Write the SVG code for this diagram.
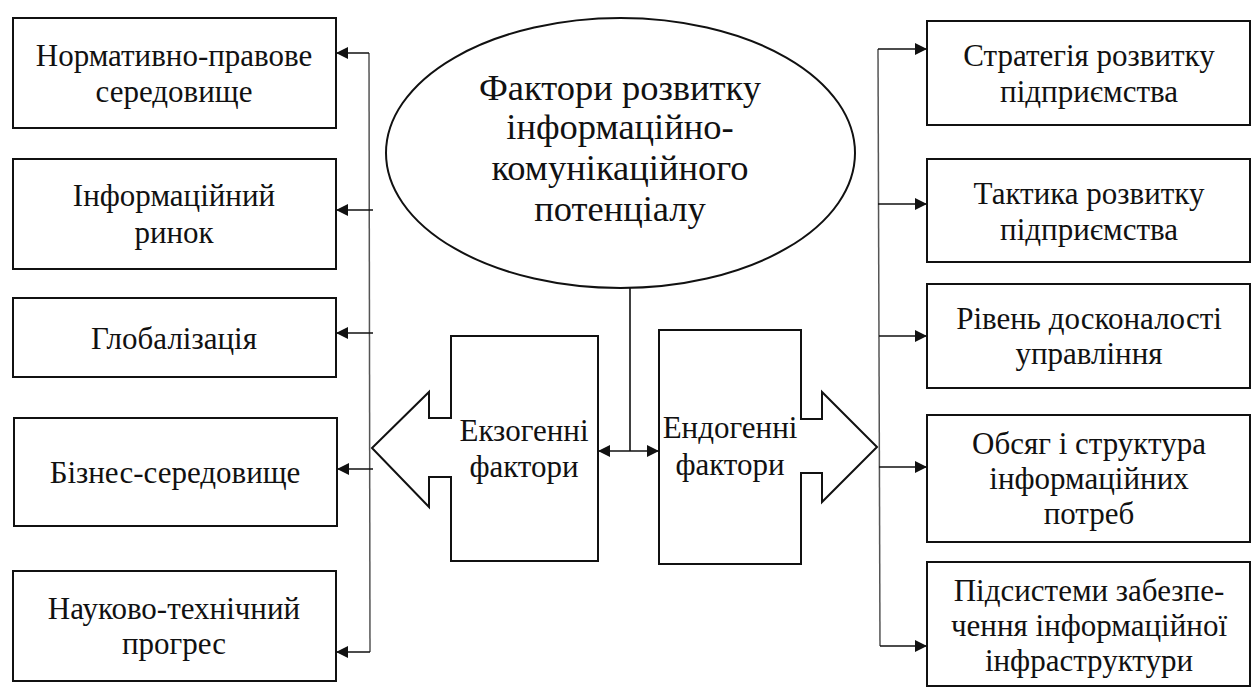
<svg xmlns="http://www.w3.org/2000/svg" width="1257" height="688" viewBox="0 0 1257 688" font-family="Liberation Serif, Times New Roman, serif">
<style>
.box{fill:#fff;stroke:#111;stroke-width:2}
.shape{fill:#fff;stroke:#111;stroke-width:2;stroke-linejoin:miter}
.t{font-family:"Liberation Serif","Times New Roman",serif;font-size:31px;fill:#111;text-anchor:middle}
.tb{font-family:"Liberation Serif","Times New Roman",serif;font-size:36.5px;fill:#111;text-anchor:middle}
.bus{fill:none;stroke:#555;stroke-width:1.5}
.arr{fill:none;stroke:#111;stroke-width:1.6}
</style>
<defs>
<marker id="ah" viewBox="0 0 12 12" refX="12" refY="6" markerWidth="12" markerHeight="12" markerUnits="userSpaceOnUse" orient="auto-start-reverse">
<path d="M0,0 L12,6 L0,12 Z" fill="#111"/>
</marker>
</defs>
<g id="center">
<ellipse cx="620.5" cy="153" rx="234.5" ry="135" class="box"/>
<text class="tb" x="620" y="100">Фактори розвитку</text>
<text class="tb" x="620" y="139">інформаційно-</text>
<text class="tb" x="620" y="180">комунікаційного</text>
<text class="tb" x="620" y="221">потенціалу</text>
</g>
<g id="exo">
<path class="shape" d="M598,336 L451,336 L451,418 L429,418 L429,392 L372,448 L429,507 L429,477 L451,477 L451,561 L598,561 Z"/>
<text class="t" x="524" y="441">Екзогенні</text>
<text class="t" x="524" y="477">фактори</text>
</g>
<g id="endo">
<path class="shape" d="M659,330 L801,330 L801,419 L822,419 L822,392 L877,447 L822,502 L822,473 L801,473 L801,564 L659,564 Z"/>
<text class="t" x="730" y="438">Ендогенні</text>
<text class="t" x="730" y="475">фактори</text>
</g>
<g id="left1"><rect class="box" x="13" y="18" width="323" height="110"/>
<text class="t" x="174" y="66">Нормативно-правове</text><text class="t" x="174" y="102">середовище</text></g>
<g id="left2"><rect class="box" x="13" y="159" width="323" height="110"/>
<text class="t" x="174" y="206">Інформаційний</text><text class="t" x="174" y="243">ринок</text></g>
<g id="left3"><rect class="box" x="13" y="298" width="323" height="79"/>
<text class="t" x="174" y="349">Глобалізація</text></g>
<g id="left4"><rect class="box" x="14" y="418" width="323" height="108"/>
<text class="t" x="175" y="483">Бізнес-середовище</text></g>
<g id="left5"><rect class="box" x="13" y="571" width="323" height="110"/>
<text class="t" x="174" y="619">Науково-технічний</text><text class="t" x="174" y="654">прогрес</text></g>
<g id="right1"><rect class="box" x="927" y="21" width="323" height="104"/>
<text class="t" x="1089" y="66">Стратегія розвитку</text><text class="t" x="1089" y="102">підприємства</text></g>
<g id="right2"><rect class="box" x="927" y="159" width="323" height="103"/>
<text class="t" x="1089" y="204">Тактика розвитку</text><text class="t" x="1089" y="240">підприємства</text></g>
<g id="right3"><rect class="box" x="927" y="284" width="323" height="104"/>
<text class="t" x="1089" y="329">Рівень досконалості</text><text class="t" x="1089" y="364">управління</text></g>
<g id="right4"><rect class="box" x="927" y="415" width="323" height="127"/>
<text class="t" x="1089" y="454">Обсяг і структура</text><text class="t" x="1089" y="489">інформаційних</text><text class="t" x="1089" y="524">потреб</text></g>
<g id="right5"><rect class="box" x="927" y="562" width="323" height="124"/>
<text class="t" x="1089" y="601">Підсистеми забезпе-</text><text class="t" x="1089" y="636">чення інформаційної</text><text class="t" x="1089" y="671">інфраструктури</text></g>
<g id="connectors">
<path class="bus" d="M369,53 L370,652"/>
<path class="bus" d="M878,49 L880,646"/>
<line class="arr" x1="369" y1="53" x2="336" y2="53" marker-end="url(#ah)"/>
<line class="arr" x1="373" y1="210" x2="336" y2="210" marker-end="url(#ah)"/>
<line class="arr" x1="373" y1="333" x2="336" y2="333" marker-end="url(#ah)"/>
<line class="arr" x1="373" y1="469" x2="337" y2="469" marker-end="url(#ah)"/>
<line class="arr" x1="370" y1="652" x2="336" y2="652" marker-end="url(#ah)"/>
<line class="arr" x1="878" y1="49" x2="927" y2="49" marker-end="url(#ah)"/>
<line class="arr" x1="878" y1="204" x2="927" y2="204" marker-end="url(#ah)"/>
<line class="arr" x1="879" y1="336" x2="927" y2="336" marker-end="url(#ah)"/>
<line class="arr" x1="879" y1="467" x2="927" y2="467" marker-end="url(#ah)"/>
<line class="arr" x1="880" y1="646" x2="927" y2="646" marker-end="url(#ah)"/>
<line class="arr" x1="630" y1="288" x2="630" y2="451"/>
<line class="arr" x1="598" y1="451" x2="659" y2="451" marker-start="url(#ah)" marker-end="url(#ah)"/>
</g>
</svg>
